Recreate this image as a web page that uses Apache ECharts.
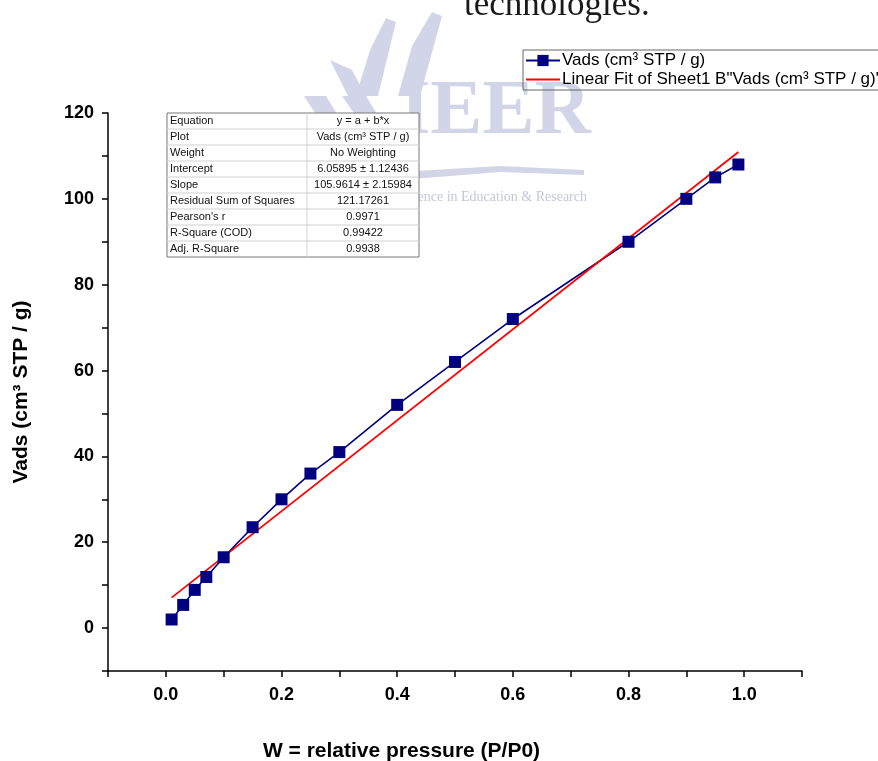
<!DOCTYPE html>
<html>
<head>
<meta charset="utf-8">
<title>Vads vs relative pressure</title>
<script src="https://cdn.jsdelivr.net/npm/echarts@6/dist/echarts.min.js"></script>
<style>
  html, body { margin: 0; padding: 0; background: #fff; }
  #chart { width: 878px; height: 761px; }
</style>
</head>
<body>
<div id="chart"></div>
<script>
const pressure = [0.01, 0.03, 0.05, 0.07, 0.1, 0.15, 0.2, 0.25, 0.3, 0.4, 0.5, 0.6, 0.8, 0.9, 0.95, 0.99];
const vads = [2, 5.4, 8.9, 11.9, 16.5, 23.5, 30, 36, 41, 52, 62, 72, 90, 100, 105, 108];

// ends of the linear fit line
const fitX = [0.01, 0.99];
const fitY = [7.1, 110.9];

// fit report table
const tableLabels = ['Equation', 'Plot', 'Weight', 'Intercept', 'Slope', 'Residual Sum of Squares', "Pearson's r", 'R-Square (COD)', 'Adj. R-Square'];
const tableValues = ['y = a + b*x', 'Vads (cm\u00b3 STP / g)', 'No Weighting', '6.05895 \u00b1 1.12436', '105.9614 \u00b1 2.15984', '121.17261', '0.9971', '0.99422', '0.9938'];

const seriesNames = ['Vads (cm\u00b3 STP / g)', 'Linear Fit of Sheet1 B"Vads (cm\u00b3 STP / g)"'];

const FONT = "'Liberation Sans', Arial, sans-serif";
const SERIF = "'Liberation Serif', 'Times New Roman', serif";
const WM = '#d2d5e8'; // watermark colour

const chart = echarts.init(document.getElementById('chart'));

// build the fit table as graphic elements
function buildTable() {
  const x0 = 167, y0 = 113, w1 = 140, w2 = 112, rowH = 16;
  const children = [];
  children.push({
    type: 'rect',
    shape: { x: x0, y: y0, width: w1 + w2, height: rowH * tableLabels.length },
    style: { fill: '#fff', stroke: '#777', lineWidth: 1 }
  });
  tableLabels.forEach((lab, i) => {
    const y = y0 + i * rowH;
    if (i > 0) {
      children.push({
        type: 'line',
        shape: { x1: x0, y1: y, x2: x0 + w1 + w2, y2: y },
        style: { stroke: '#d0d0d0', lineWidth: 1 }
      });
    }
    children.push({
      type: 'text',
      style: { x: x0 + 3, y: y + rowH / 2, text: lab, fill: '#111', font: '11px ' + FONT, verticalAlign: 'middle' }
    });
    children.push({
      type: 'text',
      style: { x: x0 + w1 + w2 / 2, y: y + rowH / 2, text: tableValues[i], fill: '#111', font: '11px ' + FONT, align: 'center', verticalAlign: 'middle' }
    });
  });
  children.push({
    type: 'line',
    shape: { x1: x0 + w1, y1: y0, x2: x0 + w1, y2: y0 + rowH * tableLabels.length },
    style: { stroke: '#d0d0d0', lineWidth: 1 }
  });
  return { type: 'group', z: 100, children: children };
}

// faint logo shapes behind the plot
function poly(points) {
  return { type: 'polygon', z: -20, shape: { points: points }, style: { fill: WM } };
}

chart.setOption({
  animation: false,
  backgroundColor: '#fff',
  grid: { left: 108, top: 113, right: 76, bottom: 90, outerBoundsMode: 'none', containLabel: false },
  legend: {
    orient: 'vertical',
    left: 523,
    top: 50,
    padding: [2, 6, 2, 2],
    itemGap: 2,
    itemWidth: 34,
    itemHeight: 14,
    borderColor: '#666',
    borderWidth: 1,
    textStyle: { fontFamily: FONT, fontSize: 17, color: '#000', padding: [0, 0, 0, -3] },
    data: [
      { name: seriesNames[0] },
      { name: seriesNames[1], itemStyle: { opacity: 0 } }
    ]
  },
  xAxis: {
    type: 'value',
    min: -0.1,
    max: 1.1,
    interval: 0.1,
    name: 'W = relative pressure (P/P0)',
    nameLocation: 'middle',
    nameGap: 70,
    nameTextStyle: { fontFamily: FONT, fontSize: 21, fontWeight: 'bold', color: '#000', padding: [0, 107, 0, 0] },
    splitLine: { show: false },
    axisLine: { onZero: false, lineStyle: { color: '#000', width: 1.5 } },
    axisTick: { length: 6, lineStyle: { color: '#000', width: 1.5 } },
    axisLabel: {
      margin: 15,
      fontFamily: FONT,
      fontSize: 18,
      fontWeight: 'bold',
      color: '#000',
      formatter: function (v) {
        const k = Math.round(v * 10);
        if (k < 0 || k > 10 || k % 2 !== 0) return '';
        return (k / 10).toFixed(1);
      }
    }
  },
  yAxis: {
    type: 'value',
    min: -10,
    max: 120,
    interval: 10,
    name: 'Vads (cm\u00b3 STP / g)',
    nameLocation: 'middle',
    nameGap: 76,
    nameRotate: 90,
    nameTextStyle: { fontFamily: FONT, fontSize: 21, fontWeight: 'bold', color: '#000' },
    splitLine: { show: false },
    axisLine: { show: true, onZero: false, lineStyle: { color: '#000', width: 1.5 } },
    axisTick: { show: true, length: 6, lineStyle: { color: '#000', width: 1.5 } },
    axisLabel: {
      margin: 14,
      fontFamily: FONT,
      fontSize: 18,
      fontWeight: 'bold',
      color: '#000',
      formatter: function (v) {
        return (v >= 0 && v % 20 === 0) ? String(v) : '';
      }
    }
  },
  series: [
    {
      name: seriesNames[0],
      type: 'line',
      data: pressure.map((p, i) => [p, vads[i]]),
      symbol: 'rect',
      symbolSize: 12,
      itemStyle: { color: '#000080' },
      lineStyle: { color: '#000080', width: 1.6 }
    },
    {
      name: seriesNames[1],
      type: 'line',
      data: fitX.map((x, i) => [x, fitY[i]]),
      symbol: 'none',
      itemStyle: { color: '#ff0000' },
      lineStyle: { color: '#ff0000', width: 1.8 }
    }
  ],
  graphic: [
    {
      type: 'text',
      z: -10,
      style: { x: 464, y: 23, text: 'technologies.', fill: '#1a1a1a', font: '35px ' + SERIF, verticalAlign: 'bottom' }
    },
    poly([[386, 18], [396, 22], [378, 96], [356, 96], [370, 50]]),
    poly([[432, 12], [442, 16], [420, 96], [398, 96], [412, 46]]),
    poly([[330, 60], [352, 70], [366, 96], [348, 96]]),
    poly([[304, 96], [326, 96], [358, 148], [338, 148]]),
    poly([[342, 96], [366, 96], [398, 148], [378, 148]]),
    poly([[400, 172], [500, 166], [584, 170], [584, 175], [500, 172], [400, 180]]),
    {
      type: 'text',
      z: -10,
      style: { x: 400, y: 152, text: 'IEER', fill: WM, font: 'bold 78px ' + SERIF, verticalAlign: 'bottom' }
    },
    {
      type: 'text',
      z: -10,
      style: { x: 587, y: 197, text: 'Excellence in Education & Research', fill: '#c3c6dc', font: '14px ' + SERIF, align: 'right', verticalAlign: 'middle' }
    },
    buildTable()
  ]
});
</script>
</body>
</html>
